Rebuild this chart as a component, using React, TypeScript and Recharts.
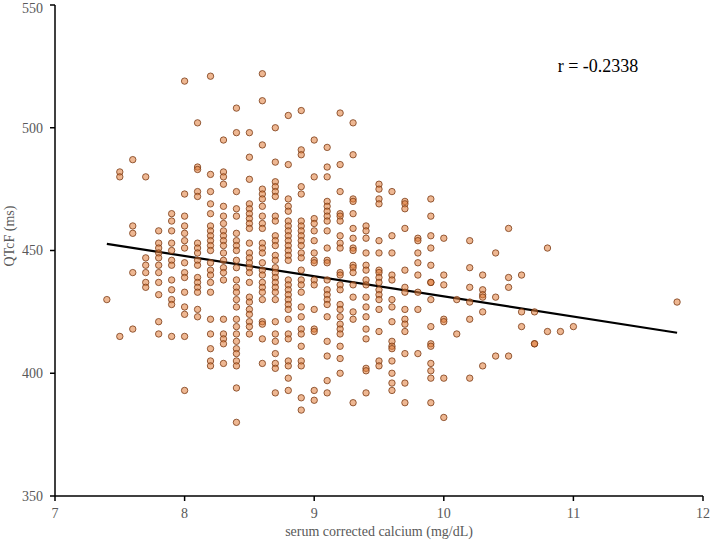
import { ReferenceLine, Scatter, ScatterChart, XAxis, YAxis } from 'recharts';

// serum corrected calcium columns (mg/dL) at 0.1 steps
const calciumColumns = [
  7.4, 7.5, 7.6, 7.7, 7.8, 7.9, 8.0, 8.1, 8.2, 8.3, 8.4, 8.5, 8.6, 8.7, 8.8, 8.9, 9.0, 9.1, 9.2, 9.3, 9.4, 9.5,
  9.6, 9.7, 9.8, 9.9, 10.0, 10.1, 10.2, 10.3, 10.4, 10.5, 10.6, 10.7, 10.8, 10.9, 11.0, 11.8,
];

// QTcF values (ms) for each calcium column above
const qtcfByColumn = [
  [430],
  [482, 480, 415],
  [487, 460, 457, 441, 418],
  [480, 447, 444, 441, 437, 435],
  [458, 453, 451, 449, 447, 444, 441, 437, 432, 421, 416],
  [465, 462, 458, 453, 450, 446, 444, 438, 434, 430, 428, 415],
  [519, 473, 464, 460, 457, 454, 451, 445, 441, 439, 433, 427, 424, 415, 393],
  [502, 484, 483, 474, 472, 453, 451, 449, 446, 444, 439, 437, 435, 433, 426, 423],
  [521, 481, 474, 469, 465, 460, 458, 456, 454, 452, 450, 445, 442, 440, 437, 433, 422, 416, 410, 405, 403],
  [495, 482, 480, 477, 468, 464, 461, 458, 456, 454, 452, 449, 446, 443, 441, 438, 422, 416, 414, 412, 404],
  [508, 498, 474, 467, 464, 457, 454, 452, 450, 446, 443, 438, 435, 433, 430, 427, 422, 419, 416, 413, 410, 408, 405, 403, 394, 380],
  [498, 488, 479, 469, 467, 465, 463, 461, 459, 453, 449, 447, 445, 443, 441, 437, 431, 429, 426, 424, 421, 419, 416],
  [522, 511, 493, 475, 473, 471, 468, 464, 461, 459, 453, 451, 449, 445, 442, 440, 437, 435, 433, 430, 421, 420, 414, 404],
  [500, 486, 478, 476, 474, 472, 464, 462, 456, 454, 452, 448, 446, 443, 441, 439, 437, 435, 433, 430, 421, 416, 413, 408, 404, 402, 392],
  [505, 485, 471, 468, 466, 462, 460, 458, 456, 454, 452, 450, 448, 446, 438, 436, 434, 432, 430, 428, 426, 422, 416, 414, 405, 403, 398, 393],
  [507, 491, 489, 476, 473, 462, 460, 458, 456, 454, 452, 449, 447, 442, 438, 436, 433, 427, 423, 418, 416, 411, 405, 403, 390, 385],
  [495, 480, 463, 461, 458, 454, 449, 446, 445, 438, 436, 426, 418, 417, 393, 389],
  [492, 484, 480, 470, 468, 466, 464, 462, 458, 451, 446, 445, 438, 434, 432, 430, 428, 423, 413, 407, 397, 392],
  [506, 485, 474, 465, 464, 462, 456, 453, 451, 441, 440, 436, 434, 428, 426, 423, 420, 418, 416, 411, 406, 400],
  [502, 489, 471, 470, 465, 459, 455, 451, 450, 444, 443, 441, 436, 431, 425, 422, 388],
  [460, 458, 455, 449, 444, 442, 438, 436, 431, 427, 423, 418, 414, 402, 401, 392],
  [477, 475, 471, 469, 454, 449, 442, 441, 439, 437, 434, 432, 430, 426, 417, 405, 403],
  [474, 456, 449, 440, 438, 430, 427, 421, 413, 411, 410, 405, 400, 396, 393],
  [470, 469, 467, 459, 442, 435, 433, 426, 422, 420, 417, 408, 396, 388],
  [455, 454, 449, 445, 440, 433, 426, 408],
  [471, 464, 456, 451, 444, 437, 437, 430, 419, 412, 411, 404, 401, 398, 388],
  [455, 440, 436, 422, 421, 398, 382],
  [430, 416],
  [454, 443, 435, 429, 422, 398],
  [440, 434, 432, 431, 425, 403],
  [449, 431, 407],
  [459, 439, 435, 407],
  [440, 425, 419],
  [425, 412, 412],
  [451, 417],
  [417],
  [419],
  [429],
];

// fitted line end points
const trendCalcium = [7.4, 11.8];
const trendQtcf = [452.7, 416.5];

const xTicks = [7, 8, 9, 10, 11, 12];
const yTicks = [350, 400, 450, 500, 550];

const points = calciumColumns.flatMap((ca, i) => qtcfByColumn[i].map((q) => ({ x: ca, y: q })));

const serif = '"Liberation Serif", "Times New Roman", serif';
const tickStyle = { fontFamily: serif, fontSize: 14, fill: '#595959' };

const Dot = (props: any) => (
  <circle cx={props.cx} cy={props.cy} r={3.2} fill="#e07b39" fillOpacity={0.55} stroke="#7a3a14" strokeWidth={0.8} />
);

export default function App() {
  return (
    <div style={{ position: 'absolute', left: 0, top: 0, width: 712, height: 545, background: '#fff' }}>
      <ScatterChart width={712} height={545} margin={{ top: 5, right: 9, left: 0, bottom: 0 }}>
        <XAxis
          type="number"
          dataKey="x"
          domain={[7, 12]}
          ticks={xTicks}
          height={49}
          tick={tickStyle}
          tickSize={5}
          tickMargin={7}
          axisLine={{ stroke: '#000', strokeWidth: 1.5 }}
          tickLine={{ stroke: '#000', strokeWidth: 1.5 }}
        />
        <YAxis
          type="number"
          dataKey="y"
          domain={[350, 550]}
          ticks={yTicks}
          width={55}
          tick={tickStyle}
          tickSize={5}
          tickMargin={7}
          axisLine={{ stroke: '#000', strokeWidth: 1.5 }}
          tickLine={{ stroke: '#000', strokeWidth: 1.5 }}
        />
        <Scatter data={points} shape={Dot} isAnimationActive={false} />
        <ReferenceLine
          segment={[
            { x: trendCalcium[0], y: trendQtcf[0] },
            { x: trendCalcium[1], y: trendQtcf[1] },
          ]}
          stroke="#000"
          strokeWidth={2.2}
        />
      </ScatterChart>
      <div
        style={{
          position: 'absolute',
          left: 10,
          top: 236,
          transform: 'translate(-50%, -50%) rotate(-90deg)',
          whiteSpace: 'nowrap',
          fontFamily: serif,
          fontSize: 14,
          color: '#595959',
        }}
      >
        QTcF (ms)
      </div>
      <div
        style={{
          position: 'absolute',
          left: 379,
          top: 532,
          transform: 'translate(-50%, -50%)',
          whiteSpace: 'nowrap',
          fontFamily: serif,
          fontSize: 14,
          color: '#595959',
        }}
      >
        serum corrected calcium (mg/dL)
      </div>
      <div
        style={{
          position: 'absolute',
          left: 598,
          top: 66,
          transform: 'translate(-50%, -50%)',
          whiteSpace: 'nowrap',
          fontFamily: serif,
          fontSize: 18,
          color: '#000',
        }}
      >
        r = -0.2338
      </div>
    </div>
  );
}
